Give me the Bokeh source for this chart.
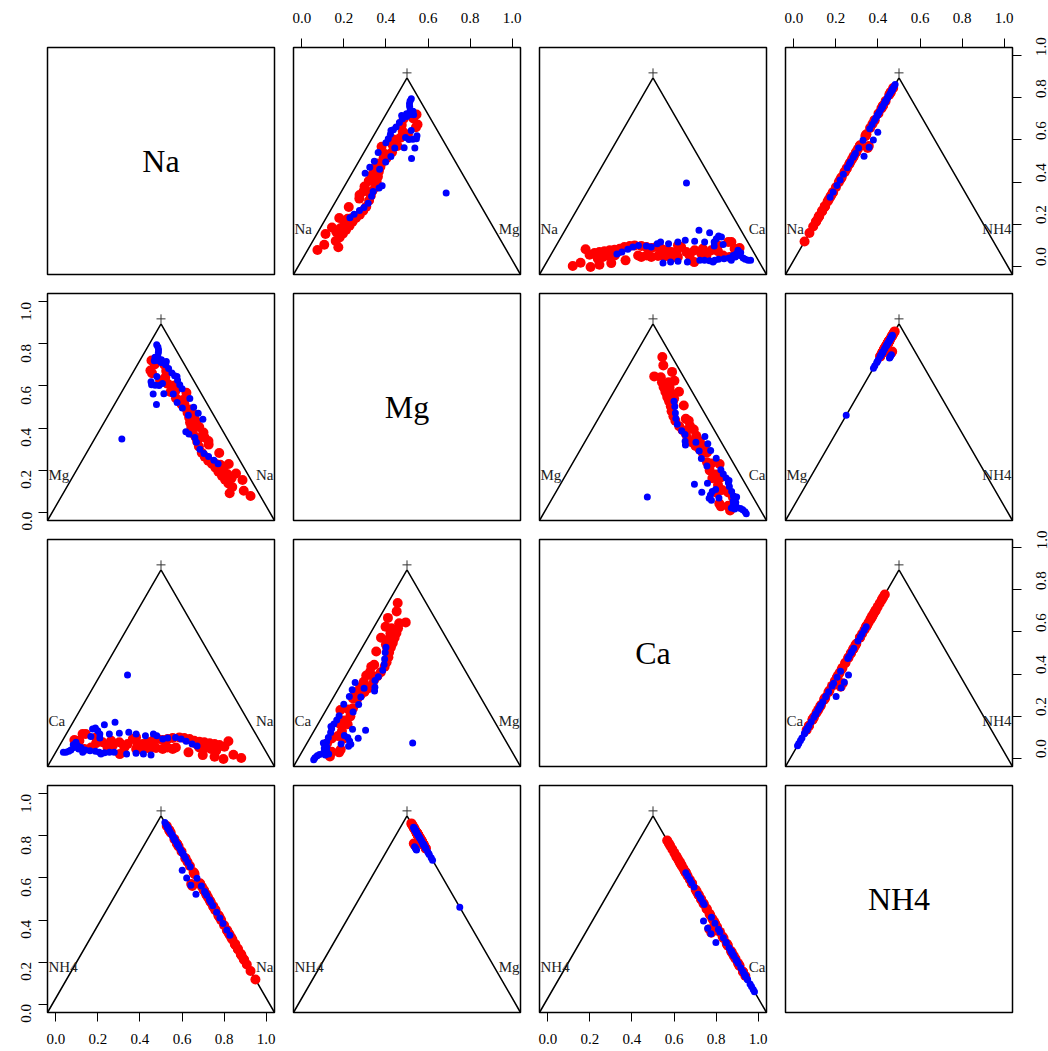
import math
from bokeh.plotting import figure
from bokeh.layouts import gridplot
from bokeh.models import Range1d, FixedTicker, PrintfTickFormatter
from bokeh.core.properties import value
from bokeh.embed import file_html
from bokeh.resources import INLINE

variables = ["Na", "Mg", "Ca", "NH4"]
tick_values = [0.0, 0.2, 0.4, 0.6, 0.8, 1.0]

# ---- compositions (fractions) ----
red_Na = [0.832, 0.789, 0.756, 0.711, 0.655, 0.585, 0.733, 0.729, 0.703, 0.679,
          0.655, 0.629, 0.606, 0.581, 0.556, 0.530, 0.507, 0.479, 0.459, 0.440,
          0.416, 0.398, 0.379, 0.362, 0.343, 0.316, 0.306, 0.296, 0.255, 0.290,
          0.480, 0.463, 0.507, 0.517, 0.431, 0.403, 0.377, 0.346, 0.287, 0.181,
          0.155, 0.143, 0.086, 0.072, 0.075, 0.051, 0.118, 0.676, 0.703, 0.620,
          0.598, 0.650, 0.234, 0.216, 0.215, 0.140]
red_Mg = [0.043, 0.060, 0.038, 0.050, 0.058, 0.072, 0.128, 0.101, 0.109, 0.114,
          0.118, 0.123, 0.126, 0.131, 0.140, 0.145, 0.148, 0.145, 0.140, 0.135,
          0.140, 0.131, 0.123, 0.114, 0.109, 0.108, 0.100, 0.114, 0.123, 0.097,
          0.097, 0.089, 0.089, 0.097, 0.094, 0.092, 0.084, 0.089, 0.063, 0.123,
          0.118, 0.097, 0.165, 0.165, 0.131, 0.135, 0.089, 0.089, 0.080, 0.097,
          0.114, 0.097, 0.106, 0.097, 0.131, 0.148]
red_Ca = [0.125, 0.151, 0.206, 0.239, 0.287, 0.343, 0.139, 0.170, 0.188, 0.207,
          0.227, 0.248, 0.268, 0.288, 0.304, 0.325, 0.345, 0.376, 0.401, 0.425,
          0.444, 0.471, 0.498, 0.524, 0.548, 0.536, 0.554, 0.590, 0.622, 0.613,
          0.423, 0.448, 0.404, 0.386, 0.475, 0.505, 0.539, 0.565, 0.650, 0.696,
          0.727, 0.760, 0.749, 0.763, 0.794, 0.814, 0.793, 0.235, 0.217, 0.283,
          0.288, 0.253, 0.660, 0.687, 0.654, 0.712]
red_NH4 = [0.0] * 25 + [0.040, 0.040] + [0.0] * 29

blue_Na = [0.607, 0.580, 0.547, 0.519, 0.490, 0.457, 0.438, 0.403, 0.384, 0.353,
           0.308, 0.271, 0.232, 0.185, 0.190, 0.144, 0.148, 0.130, 0.113, 0.103,
           0.115, 0.158, 0.427, 0.391, 0.356, 0.317, 0.258, 0.237, 0.216, 0.192,
           0.173, 0.147, 0.124, 0.099, 0.080, 0.069, 0.061, 0.055, 0.045, 0.034,
           0.119, 0.204, 0.064, 0.058, 0.093, 0.120]
blue_Mg = [0.104, 0.114, 0.128, 0.140, 0.148, 0.145, 0.140, 0.157, 0.165, 0.112,
           0.120, 0.129, 0.124, 0.225, 0.165, 0.213, 0.165, 0.182, 0.196, 0.191,
           0.152, 0.145, 0.058, 0.063, 0.068, 0.063, 0.072, 0.072, 0.070, 0.072,
           0.077, 0.080, 0.084, 0.097, 0.106, 0.097, 0.084, 0.077, 0.072, 0.072,
           0.072, 0.063, 0.123, 0.111, 0.089, 0.465]
blue_Ca = [0.289, 0.306, 0.325, 0.341, 0.362, 0.398, 0.422, 0.440, 0.451, 0.490,
           0.527, 0.555, 0.599, 0.590, 0.645, 0.643, 0.687, 0.688, 0.691, 0.706,
           0.733, 0.697, 0.515, 0.546, 0.576, 0.620, 0.670, 0.691, 0.714, 0.736,
           0.750, 0.773, 0.792, 0.804, 0.814, 0.834, 0.855, 0.868, 0.883, 0.894,
           0.809, 0.733, 0.813, 0.831, 0.818, 0.415]
blue_NH4 = [0.0] * 9 + [0.045, 0.045, 0.045, 0.045] + [0.0] * 33

red = {"Na": red_Na, "Mg": red_Mg, "Ca": red_Ca, "NH4": red_NH4}
blue = {"Na": blue_Na, "Mg": blue_Mg, "Ca": blue_Ca, "NH4": blue_NH4}
groups = [(red, "#FF0000", 10), (blue, "#0000FF", 7)]

LO, HI = -0.04, 1.04
APEX = LO + (HI - LO) * math.sqrt(3) / 2
FONT = "Liberation Serif"


def ternary(a, b):
    xs, ys = [], []
    for ai, bi in zip(a, b):
        ci = 1.0 - ai - bi
        xs.append(LO * ai + HI * bi + 0.5 * ci)
        ys.append(LO * (ai + bi) + APEX * ci)
    return xs, ys


col_lr = [(47, 10), (9, 10), (9, 10), (9, 36)]
row_tb = [(47, 10), (9, 10), (9, 10), (9, 39)]

rows = []
for i in range(4):
    row = []
    for j in range(4):
        xloc = None
        if i == 0 and j in (1, 3):
            xloc = "above"
        if i == 3 and j in (0, 2):
            xloc = "below"
        yloc = None
        if j == 0 and i in (1, 3):
            yloc = "left"
        if j == 3 and i in (0, 2):
            yloc = "right"
        p = figure(frame_width=227, frame_height=227,
                   x_range=Range1d(LO, HI), y_range=Range1d(LO, HI),
                   x_axis_location=xloc, y_axis_location=yloc,
                   min_border_left=col_lr[j][0], min_border_right=col_lr[j][1],
                   min_border_top=row_tb[i][0], min_border_bottom=row_tb[i][1],
                   output_backend="svg", toolbar_location=None, tools="")
        p.grid.visible = False
        p.outline_line_color = "black"
        p.outline_line_width = 1.5
        p.background_fill_color = "white"
        p.border_fill_color = "white"
        for ax in p.axis:
            ax.ticker = FixedTicker(ticks=tick_values, minor_ticks=[])
            ax.formatter = PrintfTickFormatter(format="%.1f")
            ax.axis_line_color = None
            ax.major_tick_in = 0
            ax.major_tick_out = 9
            ax.major_tick_line_color = "black"
            ax.major_tick_line_width = 1
            ax.minor_tick_line_color = None
            ax.major_label_text_font = FONT
            ax.major_label_text_font_size = "15px"
            ax.major_label_text_color = "black"
        for ax in p.above:
            ax.major_label_standoff = 16
        for ax in p.below:
            ax.major_label_standoff = 12
        for ax in p.left:
            ax.major_label_standoff = 12
            ax.major_label_orientation = math.pi / 2
        for ax in p.right:
            ax.major_label_standoff = 20
            ax.major_label_orientation = math.pi / 2

        if i == j:
            p.text(x=[0.5], y=[0.5], text=[variables[i]], text_font=value(FONT),
                   text_font_size="32px", text_align="center",
                   text_baseline="middle", text_color="black")
        else:
            A, B = variables[i], variables[j]
            p.line(x=[LO, 0.5, HI], y=[LO, APEX, LO], line_color="black",
                   line_width=1.5)
            p.scatter(x=[0.5], y=[APEX + 0.024], marker="cross", size=9,
                      line_color="#333333", line_width=1)
            p.text(x=[LO], y=[0.175], text=[A], text_font=value(FONT),
                   text_font_size="15px", text_align="left",
                   text_baseline="middle", x_offset=1, text_color="#222222")
            p.text(x=[HI], y=[0.175], text=[B], text_font=value(FONT),
                   text_font_size="15px", text_align="right",
                   text_baseline="middle", x_offset=-1, text_color="#222222")
            for g, color, size in groups:
                xs, ys = ternary(g[A], g[B])
                p.scatter(x=xs, y=ys, size=size, fill_color=color,
                          line_color=None)
        row.append(p)
    rows.append(row)

grid = gridplot(rows, toolbar_location=None)
open("out.html", "w").write(file_html(grid, INLINE))
